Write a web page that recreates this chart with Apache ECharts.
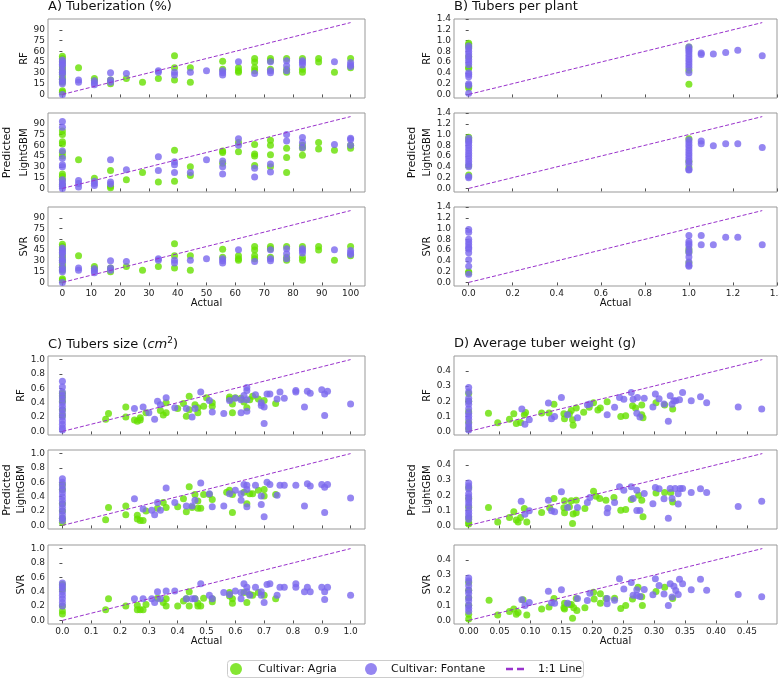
<!DOCTYPE html>
<html>
<head>
<meta charset="utf-8">
<script src="https://cdn.jsdelivr.net/npm/echarts@6/dist/echarts.min.js"></script>
<style>
  html, body { margin: 0; padding: 0; background: #fff; }
  #chart { width: 779px; height: 679px; }
</style>
</head>
<body>
<div id="chart"></div>
<script>
// series names
const AGRIA = 'Cultivar: Agria'
const FONTANE = 'Cultivar: Fontane'
const ONE_TO_ONE = '1:1 Line'
const MODELS = ['RF', 'LightGBM', 'SVR']

// ---- A) Tuberization (%) : [actual, predicted]
const aRfAgria = [[0,53],[0,50],[0,45],[0,38],[0,35],[0,30],[0,25],[0,21],[0,17],[0,5],[0,3],
  [5.6,37],[11.1,22],[11.1,19],[16.7,20],[16.7,15],[22.2,22],[27.8,17],[33.3,22],
  [38.9,54],[38.9,37],[38.9,20],[44.4,37],[44.4,17],[55.6,46],[55.6,35],
  [61.1,37],[61.1,33],[61.1,31],[66.7,50],[66.7,45],[66.7,37],[66.7,33],
  [72.2,50],[72.2,47],[72.2,35],[77.8,50],[77.8,35],[77.8,31],[83.3,50],[83.3,35],[83.3,31],
  [88.9,50],[88.9,45],[94.4,31],[100,50],[100,37]]
const aRfFontane = [[0,48],[0,45],[0,42],[0,40],[0,34],[0,31],[0,28],[0,21],[0,18],[0,15],[0,0],
  [5.6,20],[5.6,17],[11.1,19],[11.1,16],[11.1,13.5],[16.7,30],[16.7,20],[16.7,17],
  [22.2,29],[33.3,33],[33.3,31],[38.9,31],[38.9,27],[44.4,31],[50,33],
  [55.6,33],[55.6,30],[55.6,27],[61.1,45.5],[66.7,29],[72.2,45.5],[72.2,33],[72.2,30],
  [77.8,47],[77.8,40],[77.8,33],[83.3,47],[83.3,44.5],[83.3,41],[94.4,45.5],[100,44.5],[100,41],[100,39]]
const aLgbmAgria = [[0,80],[0,75],[0,65],[0,62],[0,50],[0,45],[0,20],[0,17],[0,12],[0,5],
  [5.6,40],[11.1,14],[16.7,25],[16.7,3],[16.7,1],[22.2,12],[27.8,22],[33.3,9],
  [38.9,53],[38.9,10],[44.4,30],[44.4,18],[55.6,52],[55.6,50],[55.6,35],
  [61.1,64],[61.1,51],[66.7,61],[66.7,48],[66.7,45],[66.7,32],
  [72.2,67],[72.2,60],[72.2,47],[72.2,30],[77.8,56],[77.8,43],[77.8,22],
  [83.3,60],[83.3,56],[83.3,46],[88.9,64],[88.9,55],[94.4,53],[100,60],[100,56]]
const aLgbmFontane = [[0,93],[0,85],[0,52],[0,42],[0,33],[0,30],[0,12],[0,8],[0,5],[0,3],[0,0],
  [5.6,11],[5.6,7],[5.6,2],[11.1,10],[11.1,7],[11.1,4],[16.7,40],[16.7,9],[16.7,6],
  [22.2,26],[33.3,44],[33.3,25],[38.9,37],[38.9,33],[38.9,22],[44.4,22],[50,40],
  [55.6,38],[55.6,30],[55.6,20],[61.1,69],[61.1,60],[66.7,28],[66.7,16],[72.2,34],[72.2,23],
  [77.8,75],[77.8,66],[83.3,71],[83.3,64],[83.3,57],[94.4,61],[100,70],[100,68],[100,60]]
// SVR panel reads the same as RF
const aSvrAgria = aRfAgria
const aSvrFontane = aRfFontane

// ---- B) Tubers per plant
const bRfAgria = [[0,0.95],[0,0.92],[0,0.88],[0,0.7],[0,0.5],[0,0.48],[0,0.15],[0,0.12],[1,0.88],[1,0.45],[1,0.19]]
const bRfFontane = [[0,0.9],[0,0.85],[0,0.8],[0,0.75],[0,0.7],[0,0.65],[0,0.6],[0,0.55],[0,0.4],[0,0.37],[0,0.33],[0,0.2],[0,0.17],[0,0.02],
  [1,0.88],[1,0.84],[1,0.8],[1,0.75],[1,0.7],[1,0.65],[1,0.6],[1,0.55],[1,0.5],[1,0.4],
  [1.056,0.77],[1.056,0.74],[1.111,0.75],[1.167,0.78],[1.222,0.82],[1.333,0.72]]
const bLgbmAgria = [[0,0.95],[0,0.9],[0,0.42],[0,0.25],[1,0.92],[1,0.5],[1,0.39]]
const bLgbmFontane = [[0,0.93],[0,0.88],[0,0.85],[0,0.8],[0,0.75],[0,0.7],[0,0.65],[0,0.6],[0,0.55],[0,0.5],[0,0.45],[0,0.4],[0,0.22],[0,0.2],
  [1,0.9],[1,0.85],[1,0.8],[1,0.75],[1,0.7],[1,0.65],[1,0.6],[1,0.55],[1,0.5],[1,0.45],[1,0.35],[1,0.34],
  [1.056,0.88],[1.056,0.83],[1.111,0.79],[1.167,0.83],[1.222,0.83],[1.333,0.76]]
const bSvrAgria = [[0,0.2],[0,0.18],[1,0.62],[1,0.57],[1,0.36]]
const bSvrFontane = [[0,0.98],[0,0.93],[0,0.8],[0,0.75],[0,0.7],[0,0.65],[0,0.62],[0,0.55],[0,0.42],[0,0.3],[0,0.15],
  [1,0.87],[1,0.76],[1,0.72],[1,0.68],[1,0.6],[1,0.55],[1,0.47],[1,0.38],[1,0.32],[1,0.3],
  [1.056,0.87],[1.056,0.7],[1.111,0.7],[1.167,0.84],[1.222,0.84],[1.333,0.7]]

// ---- C) Tubers size (cm2)
const cRfAgria = [[0,0.53],[0,0.48],[0,0.42],[0,0.3],[0,0.22],
  [0.15,0.17],[0.16,0.25],[0.22,0.2],[0.22,0.34],[0.25,0.16],[0.26,0.14],[0.27,0.19],[0.27,0.16],[0.29,0.26],
  [0.34,0.29],[0.35,0.23],[0.36,0.4],[0.36,0.26],[0.4,0.32],[0.42,0.39],[0.43,0.21],[0.44,0.49],[0.44,0.3],
  [0.46,0.37],[0.47,0.33],[0.47,0.26],[0.49,0.35],[0.5,0.47],[0.52,0.35],[0.52,0.4],[0.58,0.45],[0.58,0.48],
  [0.59,0.38],[0.59,0.26],[0.6,0.47],[0.62,0.46],[0.63,0.41],[0.64,0.33],[0.65,0.44],[0.66,0.49],[0.68,0.45],
  [0.7,0.43],[0.74,0.39]]
const cRfFontane = [[0,0.7],[0,0.62],[0,0.55],[0,0.5],[0,0.45],[0,0.4],[0,0.35],[0,0.3],[0,0.25],[0,0.2],[0,0.15],[0,0.1],[0,0.05],[0,0.02],
  [0.25,0.32],[0.28,0.34],[0.3,0.26],[0.32,0.17],[0.33,0.42],[0.34,0.37],[0.36,0.47],[0.39,0.33],[0.43,0.32],
  [0.45,0.2],[0.46,0.32],[0.48,0.55],[0.51,0.43],[0.52,0.27],[0.56,0.25],[0.58,0.43],[0.6,0.46],[0.62,0.26],
  [0.62,0.44],[0.63,0.5],[0.64,0.44],[0.64,0.57],[0.64,0.61],[0.64,0.28],[0.67,0.51],[0.69,0.4],[0.69,0.36],
  [0.7,0.34],[0.7,0.11],[0.71,0.52],[0.72,0.52],[0.745,0.45],[0.755,0.55],[0.77,0.46],[0.81,0.57],[0.81,0.55],
  [0.84,0.34],[0.85,0.56],[0.86,0.53],[0.9,0.58],[0.91,0.22],[0.91,0.52],[0.92,0.56],[1.0,0.38]]
const cLgbmAgria = [[0,0.57],[0,0.5],[0,0.3],[0,0.2],[0,0.1],[0,0.04],
  [0.15,0.08],[0.16,0.25],[0.22,0.27],[0.22,0.15],[0.26,0.14],[0.26,0.09],[0.27,0.07],[0.28,0.07],[0.29,0.2],
  [0.33,0.24],[0.35,0.32],[0.36,0.25],[0.4,0.26],[0.42,0.37],[0.43,0.19],[0.44,0.54],[0.45,0.25],[0.46,0.43],
  [0.47,0.34],[0.47,0.24],[0.48,0.24],[0.49,0.43],[0.51,0.43],[0.52,0.36],[0.57,0.46],[0.58,0.49],[0.59,0.43],
  [0.59,0.18],[0.63,0.46],[0.64,0.3],[0.65,0.44],[0.66,0.44],[0.68,0.49],[0.7,0.5],[0.7,0.41],[0.74,0.43]]
const cLgbmFontane = [[0,0.65],[0,0.6],[0,0.55],[0,0.5],[0,0.45],[0,0.4],[0,0.35],[0,0.3],[0,0.25],[0,0.2],[0,0.15],[0,0.1],[0,0.07],
  [0.25,0.37],[0.28,0.23],[0.31,0.21],[0.32,0.15],[0.33,0.32],[0.34,0.21],[0.36,0.52],[0.39,0.32],[0.43,0.27],
  [0.45,0.27],[0.46,0.35],[0.48,0.59],[0.51,0.44],[0.52,0.26],[0.56,0.27],[0.58,0.44],[0.6,0.49],[0.62,0.35],
  [0.62,0.44],[0.63,0.57],[0.64,0.56],[0.64,0.26],[0.64,0.5],[0.67,0.56],[0.69,0.41],[0.69,0.29],[0.7,0.12],
  [0.71,0.6],[0.72,0.57],[0.745,0.42],[0.755,0.56],[0.77,0.56],[0.81,0.56],[0.84,0.27],[0.85,0.58],[0.86,0.55],
  [0.9,0.57],[0.91,0.18],[0.91,0.53],[0.92,0.57],[1.0,0.38]]
const cSvrAgria = [[0,0.5],[0,0.43],[0,0.2],[0,0.13],[0,0.09],
  [0.15,0.15],[0.16,0.3],[0.22,0.2],[0.26,0.21],[0.26,0.15],[0.27,0.15],[0.28,0.15],[0.29,0.22],[0.33,0.31],
  [0.35,0.25],[0.36,0.3],[0.36,0.2],[0.4,0.2],[0.42,0.27],[0.43,0.3],[0.44,0.4],[0.44,0.2],[0.46,0.3],[0.47,0.24],
  [0.47,0.2],[0.48,0.2],[0.49,0.31],[0.52,0.26],[0.52,0.3],[0.58,0.39],[0.58,0.34],[0.59,0.3],[0.59,0.24],
  [0.63,0.39],[0.64,0.25],[0.65,0.36],[0.66,0.35],[0.68,0.39],[0.7,0.35],[0.74,0.3]]
const cSvrFontane = [[0,0.52],[0,0.48],[0,0.45],[0,0.4],[0,0.35],[0,0.3],[0,0.25],[0,0.2],
  [0.25,0.3],[0.28,0.3],[0.31,0.3],[0.32,0.25],[0.33,0.4],[0.34,0.3],[0.36,0.41],[0.39,0.41],[0.43,0.3],
  [0.45,0.3],[0.46,0.3],[0.48,0.51],[0.51,0.35],[0.52,0.3],[0.56,0.39],[0.58,0.36],[0.6,0.41],[0.62,0.3],
  [0.62,0.39],[0.63,0.51],[0.64,0.46],[0.64,0.4],[0.65,0.35],[0.67,0.46],[0.69,0.4],[0.69,0.35],[0.7,0.25],
  [0.71,0.5],[0.72,0.51],[0.745,0.35],[0.755,0.46],[0.77,0.46],[0.81,0.46],[0.81,0.51],[0.84,0.4],[0.85,0.46],
  [0.86,0.4],[0.9,0.46],[0.91,0.29],[0.91,0.4],[0.92,0.46],[1.0,0.35]]

// ---- D) Average tuber weight (g)
const dRfAgria = [[0,0.25],[0,0.2],[0,0.13],[0,0.06],[0,0.02],
  [0.032,0.12],[0.047,0.057],[0.066,0.08],[0.073,0.116],[0.077,0.052],[0.084,0.059],[0.09,0.11],[0.092,0.125],
  [0.118,0.122],[0.13,0.122],[0.138,0.18],[0.154,0.116],[0.155,0.083],[0.163,0.116],[0.166,0.138],[0.168,0.077],
  [0.169,0.04],[0.174,0.155],[0.186,0.127],[0.195,0.16],[0.202,0.19],[0.209,0.142],[0.213,0.155],[0.224,0.196],
  [0.246,0.098],[0.254,0.103],[0.265,0.17],[0.27,0.155],[0.28,0.111],[0.28,0.175],[0.282,0.09],[0.303,0.19],
  [0.317,0.175],[0.33,0.149]]
const dRfFontane = [[0,0.29],[0,0.26],[0,0.22],[0,0.2],[0,0.18],[0,0.15],[0,0.12],[0,0.1],[0,0.08],[0,0.05],[0,0.03],[0,0.01],
  [0.086,0.149],[0.091,0.048],[0.098,0.077],[0.129,0.188],[0.134,0.083],[0.139,0.098],[0.15,0.225],[0.16,0.111],
  [0.176,0.09],[0.192,0.177],[0.196,0.181],[0.224,0.111],[0.236,0.16],[0.244,0.225],[0.251,0.212],[0.263,0.258],
  [0.266,0.212],[0.273,0.225],[0.272,0.12],[0.277,0.096],[0.284,0.22],[0.298,0.162],[0.302,0.247],[0.308,0.216],
  [0.316,0.181],[0.323,0.068],[0.326,0.236],[0.329,0.179],[0.332,0.203],[0.335,0.203],[0.341,0.21],[0.346,0.258],
  [0.36,0.203],[0.375,0.23],[0.385,0.19],[0.436,0.162],[0.474,0.149]]
const dLgbmAgria = [[0,0.25],[0,0.18],[0,0.12],[0,0.05],[0,0.02],[0,0.01],
  [0.032,0.119],[0.047,0.022],[0.066,0.053],[0.073,0.09],[0.077,0.035],[0.08,0.022],[0.084,0.053],[0.09,0.112],
  [0.094,0.022],[0.118,0.086],[0.131,0.116],[0.138,0.178],[0.154,0.116],[0.155,0.084],[0.155,0.163],[0.163,0.123],
  [0.166,0.163],[0.168,0.013],[0.169,0.075],[0.174,0.167],[0.174,0.084],[0.188,0.112],[0.202,0.226],[0.206,0.193],
  [0.212,0.178],[0.222,0.167],[0.235,0.185],[0.246,0.101],[0.254,0.105],[0.263,0.171],[0.275,0.2],[0.28,0.167],
  [0.282,0.057],[0.303,0.215],[0.317,0.218],[0.327,0.218],[0.33,0.154]]
const dLgbmFontane = [[0,0.28],[0,0.26],[0,0.24],[0,0.21],[0,0.19],[0,0.17],[0,0.15],[0,0.13],[0,0.1],[0,0.08],[0,0.06],[0,0.04],
  [0.085,0.16],[0.091,0.073],[0.098,0.097],[0.129,0.167],[0.134,0.097],[0.139,0.09],[0.15,0.222],[0.16,0.119],
  [0.176,0.119],[0.192,0.152],[0.196,0.185],[0.224,0.084],[0.225,0.114],[0.236,0.152],[0.244,0.255],[0.251,0.233],
  [0.263,0.255],[0.266,0.178],[0.272,0.233],[0.272,0.099],[0.277,0.099],[0.284,0.211],[0.298,0.143],[0.302,0.251],
  [0.308,0.242],[0.316,0.176],[0.323,0.048],[0.326,0.244],[0.329,0.178],[0.334,0.244],[0.339,0.209],[0.339,0.141],
  [0.342,0.244],[0.346,0.244],[0.36,0.218],[0.375,0.242],[0.385,0.218],[0.436,0.125],[0.474,0.16]]
const dSvrAgria = [[0,0.25],[0,0.2],[0,0.15],[0,0.1],[0,0.04],[0,0.01],
  [0.033,0.134],[0.047,0.035],[0.066,0.059],[0.073,0.075],[0.077,0.04],[0.08,0.053],[0.088,0.136],[0.094,0.035],
  [0.118,0.075],[0.13,0.088],[0.138,0.145],[0.154,0.084],[0.155,0.075],[0.155,0.114],[0.163,0.105],[0.166,0.105],
  [0.168,0.015],[0.17,0.084],[0.174,0.145],[0.175,0.066],[0.188,0.084],[0.202,0.187],[0.203,0.141],[0.213,0.114],
  [0.213,0.176],[0.222,0.145],[0.236,0.147],[0.246,0.079],[0.254,0.099],[0.265,0.141],[0.274,0.22],[0.28,0.156],
  [0.281,0.099],[0.303,0.191],[0.317,0.22],[0.33,0.145]]
const dSvrFontane = [[0,0.28],[0,0.26],[0,0.23],[0,0.2],[0,0.18],[0,0.15],[0,0.13],[0,0.1],[0,0.08],[0,0.06],
  [0.086,0.136],[0.091,0.099],[0.098,0.119],[0.129,0.193],[0.134,0.116],[0.139,0.114],[0.15,0.202],[0.16,0.114],
  [0.176,0.145],[0.192,0.132],[0.196,0.18],[0.224,0.145],[0.224,0.11],[0.236,0.134],[0.244,0.275],[0.251,0.207],
  [0.263,0.251],[0.266,0.167],[0.272,0.202],[0.272,0.165],[0.277,0.158],[0.284,0.204],[0.298,0.169],[0.302,0.275],
  [0.308,0.231],[0.316,0.174],[0.323,0.099],[0.326,0.242],[0.329,0.154],[0.332,0.226],[0.335,0.198],[0.339,0.171],
  [0.341,0.273],[0.346,0.242],[0.36,0.202],[0.375,0.273],[0.385,0.2],[0.436,0.171],[0.474,0.156]]

// tick labels
const aXTicks = [0, 10, 20, 30, 40, 50, 60, 70, 80, 90, 100]
const aYTicks = [0, 15, 30, 45, 60, 75, 90]
const bTicks = [0, 0.2, 0.4, 0.6, 0.8, 1.0, 1.2, 1.4]
const cXTicks = [0, 0.1, 0.2, 0.3, 0.4, 0.5, 0.6, 0.7, 0.8, 0.9, 1.0]
const cYTicks = [0, 0.2, 0.4, 0.6, 0.8, 1.0]
const dXTicks = [0, 0.05, 0.1, 0.15, 0.2, 0.25, 0.3, 0.35, 0.4, 0.45]
const dYTicks = [0, 0.1, 0.2, 0.3, 0.4]

// 1:1 line end (max actual)
const aLineEnd = 100
const bLineEnd = 1.333
const cLineEnd = 1.0
const dLineEnd = 0.475

const FONT = 'DejaVu Sans'
const COL_AGRIA = '#66e000'
const COL_FONTANE = '#7b68ee'
const COL_LINE = '#9932cc'

const panels = [
  {
    title: 'A) Tuberization (%)', left: 48, width: 317, tops: [19, 113, 207], titleTop: 0, predX: 7, nameGap: 14,
    range: [-5, 105], xTicks: aXTicks, yTicks: aYTicks, xDec: 0, yDec: 0, lineEnd: aLineEnd,
    data: [[aRfAgria, aRfFontane], [aLgbmAgria, aLgbmFontane], [aSvrAgria, aSvrFontane]],
  },
  {
    title: 'B) Tubers per plant', left: 454, width: 323, tops: [19, 113, 207], titleTop: 0, predX: 412, nameGap: 17,
    range: [-0.0667, 1.4], xTicks: bTicks, yTicks: bTicks, xDec: 1, yDec: 1, lineEnd: bLineEnd,
    data: [[bRfAgria, bRfFontane], [bLgbmAgria, bLgbmFontane], [bSvrAgria, bSvrFontane]],
  },
  {
    title: '{n|C) Tubers size (}{i|cm}{s|2}{n|)}', left: 48, width: 317, tops: [356, 450, 545], titleTop: 336, predX: 7, nameGap: 19,
    range: [-0.05, 1.05], xTicks: cXTicks, yTicks: cYTicks, xDec: 1, yDec: 1, lineEnd: cLineEnd,
    data: [[cRfAgria, cRfFontane], [cLgbmAgria, cLgbmFontane], [cSvrAgria, cSvrFontane]],
  },
  {
    title: 'D) Average tuber weight (g)', left: 454, width: 323, tops: [356, 450, 545], titleTop: 337, predX: 412, nameGap: 17,
    range: [-0.02375, 0.49875], xTicks: dXTicks, yTicks: dYTicks, xDec: 2, yDec: 1, lineEnd: dLineEnd,
    data: [[dRfAgria, dRfFontane], [dLgbmAgria, dLgbmFontane], [dSvrAgria, dSvrFontane]],
  },
]

const grids = []
const xAxes = []
const yAxes = []
const series = []
const titles = []
const graphics = []
const tickStyle = { color: '#555', width: 1 }
const labelStyle = { fontSize: 9, color: '#222', fontFamily: FONT }

panels.forEach((p) => {
  titles.push({
    text: p.title,
    left: p.left,
    top: p.titleTop,
    padding: 0,
    textStyle: {
      fontSize: 13, fontWeight: 'normal', color: '#111', fontFamily: FONT,
      rich: {
        n: { fontSize: 13, fontFamily: FONT, color: '#111', lineHeight: 17 },
        i: { fontSize: 13, fontFamily: FONT, fontStyle: 'italic', color: '#111', lineHeight: 17 },
        s: { fontSize: 9, fontFamily: FONT, fontStyle: 'normal', color: '#111', verticalAlign: 'top', lineHeight: 11 },
      },
    },
  })
  graphics.push({
    type: 'text',
    x: p.predX,
    y: (p.tops[0] + p.tops[2] + 79) / 2,
    rotation: Math.PI / 2,
    style: { text: 'Predicted', font: '11px "DejaVu Sans"', fill: '#111', align: 'center', verticalAlign: 'middle' },
  })
  p.data.forEach((pair, m) => {
    const gi = grids.length
    const isBottom = m === 2
    grids.push({ left: p.left, top: p.tops[m], width: p.width, height: 79, show: true, borderColor: '#999', borderWidth: 1, containLabel: false, outerBoundsMode: 'none' })
    xAxes.push({
      type: 'value', gridIndex: gi, min: p.range[0], max: p.range[1],
      splitLine: { show: false }, axisLine: { show: false },
      axisTick: { show: true, length: 3, customValues: p.xTicks, lineStyle: tickStyle },
      axisLabel: Object.assign({ show: isBottom, margin: 3, customValues: p.xTicks, formatter: (v) => v.toFixed(p.xDec) }, labelStyle),
      name: isBottom ? 'Actual' : '',
      nameLocation: 'middle', nameGap: 11,
      nameTextStyle: { fontSize: 10, color: '#111', fontFamily: FONT },
    })
    yAxes.push({
      type: 'value', gridIndex: gi, min: p.range[0], max: p.range[1],
      splitLine: { show: false }, axisLine: { show: false },
      axisTick: { show: true, length: 3, customValues: p.yTicks, lineStyle: tickStyle },
      axisLabel: Object.assign({ margin: 3, customValues: p.yTicks, formatter: (v) => v.toFixed(p.yDec) }, labelStyle),
      name: MODELS[m], nameLocation: 'middle', nameGap: p.nameGap,
      nameTextStyle: { fontSize: 10, color: '#111', fontFamily: FONT },
    })
    series.push({
      name: AGRIA, type: 'scatter', xAxisIndex: gi, yAxisIndex: gi, data: pair[0],
      symbolSize: 7, itemStyle: { color: COL_AGRIA, opacity: 0.8 }, silent: true,
    })
    series.push({
      name: FONTANE, type: 'scatter', xAxisIndex: gi, yAxisIndex: gi, data: pair[1],
      symbolSize: 7, itemStyle: { color: COL_FONTANE, opacity: 0.8 }, silent: true,
    })
    series.push({
      name: ONE_TO_ONE, type: 'line', xAxisIndex: gi, yAxisIndex: gi,
      data: [[0, 0], [p.lineEnd, p.lineEnd]], symbol: 'none', silent: true,
      lineStyle: { color: COL_LINE, width: 1, type: [4, 2] }, itemStyle: { color: COL_LINE }, z: 3,
    })
  })
})

// legend box at the bottom
const LEG_Y = 669
const legendTextStyle = { font: '11px "DejaVu Sans"', fill: '#111', verticalAlign: 'middle' }
graphics.push(
  { type: 'rect', shape: { x: 227.5, y: 660.5, width: 356, height: 17, r: 3 }, style: { fill: '#fff', stroke: '#ccc', lineWidth: 1 } },
  { type: 'circle', shape: { cx: 236, cy: LEG_Y, r: 6 }, style: { fill: COL_AGRIA, opacity: 0.8 } },
  { type: 'text', x: 258, y: LEG_Y, style: Object.assign({ text: AGRIA }, legendTextStyle) },
  { type: 'circle', shape: { cx: 371, cy: LEG_Y, r: 6 }, style: { fill: COL_FONTANE, opacity: 0.8 } },
  { type: 'text', x: 391, y: LEG_Y, style: Object.assign({ text: FONTANE }, legendTextStyle) },
  { type: 'line', shape: { x1: 506, y1: LEG_Y, x2: 528, y2: LEG_Y }, style: { stroke: COL_LINE, lineWidth: 2.5, lineDash: [7, 4] } },
  { type: 'text', x: 538, y: LEG_Y, style: Object.assign({ text: ONE_TO_ONE }, legendTextStyle) }
)

const chart = echarts.init(document.getElementById('chart'), null, { renderer: 'canvas' })
chart.setOption({
  animation: false,
  backgroundColor: '#fff',
  title: titles,
  grid: grids,
  xAxis: xAxes,
  yAxis: yAxes,
  series: series,
  graphic: graphics,
})
</script>
</body>
</html>
